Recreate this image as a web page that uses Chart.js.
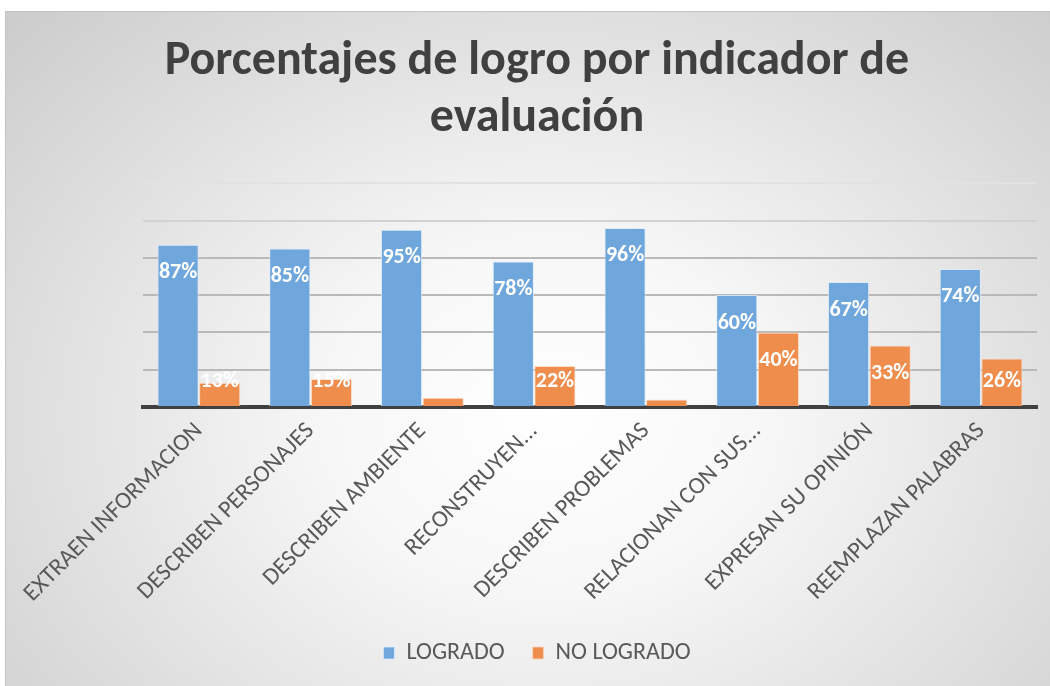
<!DOCTYPE html>
<html>
<head>
<meta charset="utf-8">
<script src="https://cdn.jsdelivr.net/npm/chart.js@4/dist/chart.umd.min.js"></script>
<style>
  html, body { margin: 0; padding: 0; background: #fff; overflow: hidden; }
  #marco {
    position: absolute; left: 5px; top: 11px; width: 1045px; height: 675px;
    border-top: 1px solid #c4c4c4; border-left: 1px solid #c4c4c4;
    box-sizing: border-box; overflow: hidden;
    background: radial-gradient(ellipse 70% 85% at 52% 60%, #ffffff 0%, #f7f7f7 30%, #cdcdcd 100%);
  }
  #myChart { position: absolute; left: 0; top: 0; }
</style>
</head>
<body>
<div id="marco"><canvas id="myChart" width="1044" height="690"></canvas></div>
<script>
// categorias y valores
const categorias = [
  "EXTRAEN INFORMACION",
  "DESCRIBEN PERSONAJES",
  "DESCRIBEN AMBIENTE",
  "RECONSTRUYEN...",
  "DESCRIBEN PROBLEMAS",
  "RELACIONAN CON SUS...",
  "EXPRESAN SU OPINIÓN",
  "REEMPLAZAN PALABRAS"
];
const logrado   = [87, 85, 95, 78, 96, 60, 67, 74];
const noLogrado = [13, 15, 5, 22, 4, 40, 33, 26];
const yMax = 120;
const yStep = 20;

const fuente = "Calibri, Carlito, Lato, sans-serif";

//Etiquetas blancas dentro de las barras (se ocultan en las barras muy pequeñas)
const etiquetas = {
  id: 'etiquetas',
  afterDatasetsDraw(chart) {
    const ctx = chart.ctx;
    ctx.save();
    ctx.font = "bold 22px " + fuente;
    ctx.fillStyle = "#ffffff";
    ctx.textAlign = "center";
    ctx.textBaseline = "middle";
    chart.data.datasets.forEach((ds, i) => {
      const meta = chart.getDatasetMeta(i);
      meta.data.forEach((bar, j) => {
        const v = ds.data[j];
        if (v < 10) return;
        const y = Math.min(bar.y + 28, bar.base - 25);
        ctx.fillText(v + "%", bar.x, y);
      });
    });
    ctx.restore();
  }
};

const config = {
  type: 'bar',
  data: {
    labels: categorias,
    datasets: [{
      label: 'LOGRADO',
      data: logrado,
      backgroundColor: '#6fa6db',
      borderColor: 'rgba(220,235,250,0.8)',
      borderWidth: 1
    }, {
      label: 'NO LOGRADO',
      data: noLogrado,
      backgroundColor: '#ee8d4c',
      borderColor: 'rgba(250,215,190,0.8)',
      borderWidth: 1
    }]
  },
  options: {
    responsive: false,
    animation: false,
    layout: { padding: { left: 31, right: 13, top: 0, bottom: 27 } },
    datasets: { bar: { categoryPercentage: 0.745, barPercentage: 0.99 } },
    plugins: {
      title: {
        display: true,
        text: ['Porcentajes de logro por indicador de', 'evaluación'],
        color: '#404040',
        font: { family: fuente, size: 48, weight: 'bold', lineHeight: 1.2 },
        padding: { top: 21, bottom: 35 }
      },
      legend: {
        position: 'bottom',
        labels: {
          color: '#595959',
          font: { family: fuente, size: 24 },
          boxWidth: 11,
          boxHeight: 12,
          padding: 28
        }
      },
      tooltip: { enabled: false }
    },
    scales: {
      x: {
        grid: { display: false },
        border: { display: true, color: '#404040', width: 4 },
        ticks: {
          color: '#595959',
          font: { family: fuente, size: 24 },
          minRotation: 45,
          maxRotation: 45,
          padding: 2
        },
        afterFit: s => { s.height = 206; }
      },
      y: {
        min: 0,
        max: yMax,
        ticks: { display: false, stepSize: yStep },
        border: { display: false },
        grid: {
          drawTicks: false,
          lineWidth: 2,
          color: c => c.tick.value === 120 ? '#e2e2e2' : (c.tick.value === 100 ? '#d2d2d2' : '#b9b9b9')
        },
        afterFit: s => { s.width = 106; }
      }
    }
  },
  plugins: [etiquetas]
};

let myChart = new Chart(document.getElementById('myChart'), config);
</script>
</body>
</html>
